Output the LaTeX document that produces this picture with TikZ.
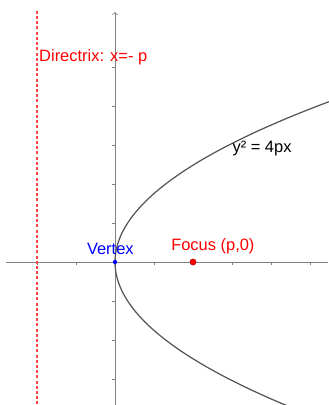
\documentclass[tikz,border=0pt]{standalone}
\usepackage{fontspec}
\setmainfont{Liberation Sans}
\usepackage{tikz}

\definecolor{axisgray}{RGB}{128,128,128}
\definecolor{curvegray}{RGB}{85,85,85}
\definecolor{dirred}{RGB}{255,70,70}

\tikzset{
  axis/.style={axisgray,line width=0.6pt},
  lbl/.style={font=\fontsize{12}{14}\selectfont,inner sep=0pt}
}

\begin{document}
\begin{tikzpicture}
  \useasboundingbox (-2.949,-3.667) rectangle (5.462,6.718);
  % axes
  \draw[axis] (-2.79,0) -- (5.462,0);
  \draw[axis,->] (0,-3.667) -- (0,6.41);
  \foreach \x in {-2,-1,1,3,4,5}
    \draw[axis,line width=0.4pt] (\x,0) -- (\x,-0.07);
  \foreach \y in {-3,-2,-1,1,2,3,4,5}
    \draw[axis,line width=0.4pt] (0,\y) -- (-0.07,\y);
  % directrix
  \draw[dirred,line width=0.8pt,dash pattern=on 2.2pt off 1.6pt] (-2,6.44) -- (-2,-3.667);
  % parabola
  \draw[curvegray,line width=0.9pt] plot[domain=-3.7:4.11,variable=\t,samples=120] ({\t*\t/3.08},{\t});
  % points
  \fill[blue] (0,0) circle (0.055);
  \filldraw[fill=red,draw=red!60!black,line width=0.3pt] (2,0) circle (0.08);
  % labels
  \node[lbl,red,anchor=base west] (dirlabel) at (-1.95,5.15) {Directrix: x=- p};
  \node[lbl] (eqlabel) at (3.77,2.9) {y² = 4px};
  \node[lbl,blue] (vertexlabel) at (-0.12,0.33) {Vertex};
  \node[lbl,red] (focuslabel) at (2.51,0.41) {Focus (p,0)};
\end{tikzpicture}
\end{document}
